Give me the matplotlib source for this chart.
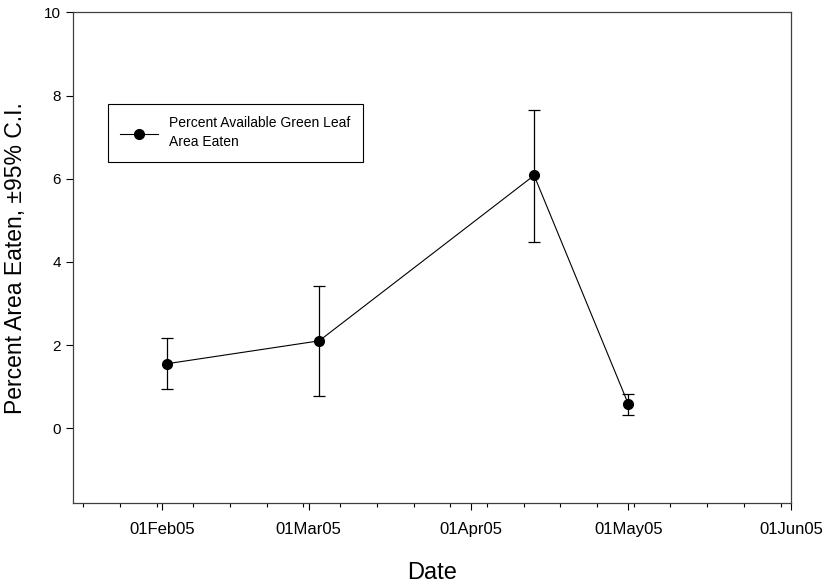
import datetime as dt
import matplotlib
matplotlib.use("Agg")
import matplotlib.pyplot as plt
import matplotlib.dates as mdates
from matplotlib.lines import Line2D

plt.rcParams['font.family'] = ['Liberation Sans', 'DejaVu Sans']

# data
dates = [dt.datetime(2005, 2, 2), dt.datetime(2005, 3, 3),
         dt.datetime(2005, 4, 13), dt.datetime(2005, 5, 1)]
pct_eaten = [1.55, 2.10, 6.08, 0.57]
ci_upper = [2.18, 3.41, 7.66, 0.83]
ci_lower = [0.93, 0.78, 4.49, 0.31]

err_low = [v - lo for v, lo in zip(pct_eaten, ci_lower)]
err_high = [hi - v for v, hi in zip(pct_eaten, ci_upper)]

fig = plt.figure(figsize=(8.27, 5.88), dpi=100)
ax = fig.add_axes([0.0879, 0.1446, 0.8686, 0.8342])

ax.errorbar(dates, pct_eaten, yerr=[err_low, err_high], color='black',
            marker='o', markersize=7, linewidth=0.8, elinewidth=0.9,
            capsize=4, capthick=0.9)

ax.set_xlim(dt.datetime(2005, 1, 15), dt.datetime(2005, 6, 1))
ax.set_ylim(-1.8, 10)
ax.set_yticks([0, 2, 4, 6, 8, 10])

ax.xaxis.set_major_locator(mdates.MonthLocator(bymonthday=1))
ax.xaxis.set_major_formatter(mdates.DateFormatter('%d%b%y'))
ax.xaxis.set_minor_locator(mdates.WeekdayLocator(byweekday=mdates.MO))

ax.tick_params(axis='both', which='major', direction='out', length=5,
               width=0.8, labelsize=11, color='black')
ax.tick_params(axis='x', which='major', labelsize=12, pad=9)
ax.tick_params(axis='x', which='minor', direction='out', length=3, width=0.8)

for s in ax.spines.values():
    s.set_linewidth(0.9)
    s.set_color('#404040')

ax.set_xlabel('Date', fontsize=17, labelpad=18)
ax.set_ylabel('Percent Area Eaten, \u00b195% C.I.', fontsize=16.5, labelpad=12)

handle = Line2D([], [], color='black', marker='o', markersize=7, linewidth=0.8)
leg = ax.legend([handle], ['Percent Available Green Leaf\nArea Eaten'],
                loc='upper left', bbox_to_anchor=(0.049, 0.8135),
                borderaxespad=0, fontsize=10, fancybox=False,
                edgecolor='black', handlelength=2.7, handletextpad=0.8,
                borderpad=0.9, framealpha=1)
leg.get_frame().set_linewidth(0.8)
for t in leg.get_texts():
    t.set_linespacing(1.45)

fig.savefig('out.png', dpi=100)
